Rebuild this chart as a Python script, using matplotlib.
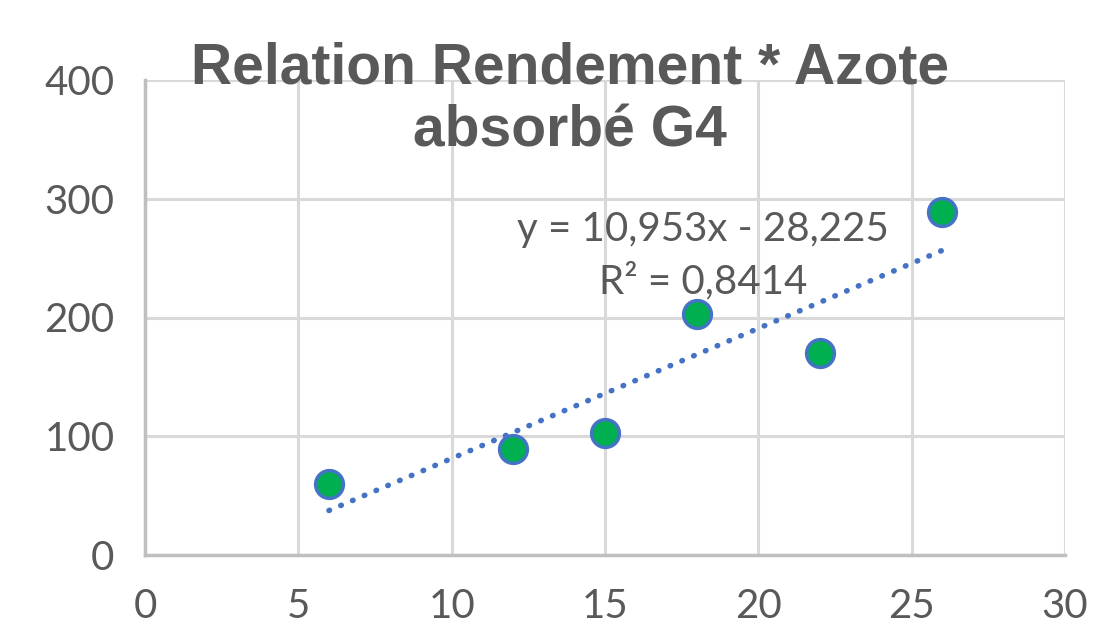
import numpy as np
import matplotlib
matplotlib.use("Agg")
import matplotlib.pyplot as plt

# azote absorbé vs rendement (G4)
azote = [6, 12, 15, 18, 22, 26]
rendement = [60, 89, 103, 203, 170, 289]

# coefficients de la courbe de tendance (affichés sur le graphique)
pente = 10.953
ordonnee = -28.225
r2 = 0.8414

x_ticks = [0, 5, 10, 15, 20, 25, 30]
y_ticks = [0, 100, 200, 300, 400]

gris = "#595959"
plt.rcParams['font.family'] = ['Lato', 'DejaVu Sans']

fig = plt.figure(figsize=(10.98, 6.39), dpi=100)
ax = fig.add_axes([145/1098, 1 - 555/639, 920/1098, 475/639])

ax.set_xlim(0, 30)
ax.set_ylim(0, 400)
ax.set_xticks(x_ticks)
ax.set_yticks(y_ticks)
ax.grid(True, color="#d9d9d9", linewidth=2.2, zorder=0)
ax.set_axisbelow(True)
for s in ["top", "right"]:
    ax.spines[s].set_visible(False)
for s in ["left", "bottom"]:
    ax.spines[s].set_color("#bfbfbf")
    ax.spines[s].set_linewidth(2.5)
ax.tick_params(length=0, labelsize=29, labelcolor=gris)
ax.tick_params(axis="y", pad=22)
ax.tick_params(axis="x", pad=24)

xs = np.linspace(min(azote), max(azote), 50)
ax.plot(xs, pente * xs + ordonnee, linestyle=(0, (0.1, 2.2)), color="#4472C4",
        linewidth=4, dash_capstyle="round", zorder=2)

ax.plot(azote, rendement, "o", markersize=20, markerfacecolor="#00B050",
        markeredgecolor="#4472C4", markeredgewidth=2.5, zorder=3, clip_on=False)

txt = "y = {}x - {}\nR² = {}".format(f"{pente:.3f}".replace(".", ","),
                                    f"{-ordonnee:.3f}".replace(".", ","),
                                    f"{r2:.4f}".replace(".", ","))
ax.text(18.2, 252, txt, ha="center", va="center", fontsize=29, color=gris,
        linespacing=1.45, zorder=4)

fig.text(570/1098, 1 - 100/639, "Relation Rendement * Azote\nabsorbé G4",
         ha="center", va="center", fontsize=41, fontweight="bold", color=gris,
         family=["Liberation Sans", "DejaVu Sans"], linespacing=1.2)

fig.savefig("out.png", dpi=100)
